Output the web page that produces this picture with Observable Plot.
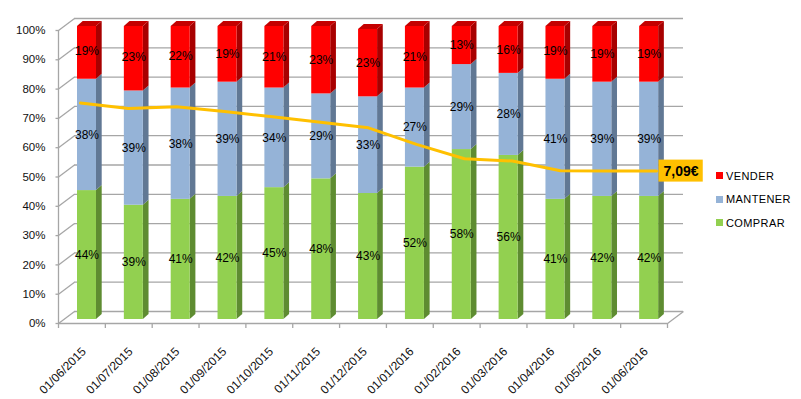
<!DOCTYPE html>
<html>
<head>
<meta charset="utf-8">
<script src="https://cdn.jsdelivr.net/npm/d3@7"></script>
<script src="https://cdn.jsdelivr.net/npm/@observablehq/plot@0.6"></script>
<style>
  html, body { margin: 0; padding: 0; background: #fff; }
  #chart { position: relative; width: 801px; height: 399px; font-family: "Liberation Sans", Arial, sans-serif; }
  #chart svg { position: absolute; left: 0; top: 0; overflow: visible; }
  #legend { position: absolute; left: 716px; top: 164px; font-size: 11px; color: #000; letter-spacing: 0.4px; }
  #legend .item { display: flex; align-items: center; height: 23.5px; }
  #legend .sw { width: 7px; height: 7px; margin-right: 3px; }
</style>
</head>
<body>
<div id="chart"></div>
<script>
// ---- data ----
const dates = ["01/06/2015","01/07/2015","01/08/2015","01/09/2015","01/10/2015","01/11/2015","01/12/2015",
               "01/01/2016","01/02/2016","01/03/2016","01/04/2016","01/05/2016","01/06/2016"];
const comprar  = [44,39,41,42,45,48,43,52,58,56,41,42,42];
const mantener = [38,39,38,39,34,29,33,27,29,28,41,39,39];
const vender   = [19,23,22,19,21,23,23,21,13,16,19,19,19];
const price    = [10.34,10.08,10.16,9.94,9.69,9.43,9.16,8.37,7.68,7.57,7.11,7.09,7.09];
const yTicks   = [0,10,20,30,40,50,60,70,80,90,100];
const seriesNames = ["COMPRAR","MANTENER","VENDER"];
const legendOrder = ["VENDER","MANTENER","COMPRAR"];

// ---- styles ----
const front = {COMPRAR:"#92D050", MANTENER:"#95B3D7", VENDER:"#FF0000"};
const side  = {COMPRAR:"#5E8C31", MANTENER:"#617894", VENDER:"#A80000"};
const topC  = {COMPRAR:"#76A83E", MANTENER:"#7890AE", VENDER:"#C40000"};
const gridColor = "#A6A6A6";

// ---- layout ----
const W = 801, H = 399;
const ML = 58, MR = 134, MT = 26, MB = 80;
const kx = (W - ML - MR) / dates.length;   // px per category
const ky = (H - MT - MB) / 100;            // px per percent
const BL = 19 / kx, BR = 38 / kx;          // bar front face within category
const DX = 5.7 / kx, DY = 5 / ky;          // bar depth
const WX = 16 / kx, WY = 12 / ky;          // wall depth

// ---- build stacked segments ----
const seriesVals = {COMPRAR: comprar, MANTENER: mantener, VENDER: vender};
const segs = [];
dates.forEach((d, i) => {
  let cum = 0;
  seriesNames.forEach((s, k) => {
    const v = seriesVals[s][i];
    const lo = cum, hiRaw = cum + v;
    cum = hiRaw;
    segs.push({i, date: d, series: s, value: v, key: d + s,
               lo: Math.min(lo, 100), hi: Math.min(hiRaw, 100), mid: (lo + hiRaw) / 2, isTop: k === seriesNames.length - 1});
  });
});
const sidePts = segs.flatMap(s => [
  {key: s.key, series: s.series, x: s.i + BR,      y1: s.lo,      y2: s.hi},
  {key: s.key, series: s.series, x: s.i + BR + DX, y1: s.lo + DY, y2: s.hi + DY}
]);
const topPts = segs.filter(s => s.isTop).flatMap(s => [
  {key: s.key, series: s.series, x: s.i + BL,      y1: s.hi, y2: s.hi},
  {key: s.key, series: s.series, x: s.i + BL + DX, y1: s.hi, y2: s.hi + DY},
  {key: s.key, series: s.series, x: s.i + BR,      y1: s.hi, y2: s.hi + DY},
  {key: s.key, series: s.series, x: s.i + BR + DX, y1: s.hi + DY, y2: s.hi + DY}
]);
const cats = dates.map((d, i) => ({date: d, i}));
const bounds = d3.range(dates.length + 1);

const bars = Plot.plot({
  width: W, height: H,
  marginLeft: ML, marginRight: MR, marginTop: MT, marginBottom: MB,
  style: {fontFamily: "Liberation Sans, Arial, sans-serif", background: "transparent"},
  x: {domain: [0, dates.length], axis: null},
  y: {domain: [0, 100], axis: null},
  color: {type: "identity"},
  marks: [
    // back wall gridlines
    Plot.ruleY(yTicks, {x1: 0, x2: dates.length, dx: 16, dy: -8, stroke: gridColor, strokeWidth: 1.3}),
    // side wall diagonals
    Plot.link(yTicks, {x1: 0, x2: WX, y1: d => d, y2: d => d + WY, dy: 4, stroke: gridColor, strokeWidth: 1.3}),
    // floor right edge
    Plot.link([0], {x1: dates.length, x2: dates.length + WX, y1: 0, y2: WY, dy: 4, stroke: gridColor, strokeWidth: 1.3}),
    // floor front edge & left axis line
    Plot.ruleY([0], {x1: 0, x2: dates.length, dy: 4, stroke: gridColor, strokeWidth: 1.3}),
    Plot.ruleX([0], {y1: 0, y2: 100, dy: 4, stroke: gridColor, strokeWidth: 1.3}),
    // y ticks
    Plot.link(yTicks, {x1: -3 / kx, x2: 0, y1: d => d, y2: d => d, dy: 4, stroke: gridColor, strokeWidth: 1.3}),
    // x ticks
    Plot.ruleX(bounds, {y1: 0, y2: -5 / ky, dy: 4, stroke: gridColor, strokeWidth: 1.3}),
    // y labels
    Plot.text(yTicks, {x: 0, y: d => d, text: d => d + "%", textAnchor: "end", dx: -13, dy: 4, fontSize: 11.5, fill: "#111"}),
    // x labels
    Plot.text(cats, {x: d => d.i + 0.5, y: -14 / ky, text: "date", rotate: -45, textAnchor: "end", dx: 2, dy: 16, fontSize: 12, fill: "#111"}),
    // 3D bar faces
    Plot.areaY(sidePts, {x: "x", y1: "y1", y2: "y2", z: "key", fill: d => side[d.series]}),
    Plot.areaY(topPts, {x: "x", y1: "y1", y2: "y2", z: "key", fill: d => topC[d.series]}),
    Plot.rect(segs, {x1: d => d.i + BL, x2: d => d.i + BR, y1: "lo", y2: "hi", fill: d => front[d.series]}),
    // value labels
    Plot.text(segs, {x: d => d.i + (BL + BR) / 2, y: "mid", text: d => d.value + "%", fontSize: 12, fill: "#000"})
  ]
});

const last = dates.length - 1;
const fmtPrice = v => v.toFixed(2).replace(".", ",") + "€";
const priceData = dates.map((d, i) => ({date: d, v: price[i]}));
const line = Plot.plot({
  width: W, height: H,
  marginLeft: 75, marginRight: W - 660, marginTop: MT, marginBottom: MB,
  style: {fontFamily: "Liberation Sans, Arial, sans-serif", background: "transparent"},
  x: {type: "point", domain: dates, padding: 0, axis: null},
  y: {domain: [0, 14], axis: null},
  marks: [
    Plot.line(priceData, {x: "date", y: "v", stroke: "#FFC000", strokeWidth: 3}),
    Plot.text([priceData[last]], {x: "date", y: "v", text: d => fmtPrice(d.v), textAnchor: "start", dx: 7, fontSize: 14, fontWeight: "bold", fill: "#000"})
  ]
});

const chart = document.getElementById("chart");
chart.appendChild(bars);
chart.appendChild(line);

// background box for price label
const lbl = Array.from(line.querySelectorAll("text")).find(t => t.textContent === fmtPrice(price[last]));
if (lbl) {
  const bb = lbl.getBBox();
  const g = lbl.parentNode;
  const rect = document.createElementNS("http://www.w3.org/2000/svg", "rect");
  rect.setAttribute("x", bb.x - 5);
  rect.setAttribute("y", bb.y + bb.height / 2 - 11);
  rect.setAttribute("width", bb.width + 9);
  rect.setAttribute("height", 22);
  rect.setAttribute("fill", "#FFC000");
  const tf = lbl.getAttribute("transform");
  if (tf) rect.setAttribute("transform", tf);
  g.insertBefore(rect, g.firstChild);
}

// legend
const legend = document.createElement("div");
legend.id = "legend";
legendOrder.forEach(s => {
  const item = document.createElement("div");
  item.className = "item";
  const sw = document.createElement("span");
  sw.className = "sw";
  sw.style.background = front[s];
  const tx = document.createElement("span");
  tx.textContent = s;
  item.appendChild(sw); item.appendChild(tx);
  legend.appendChild(item);
});
chart.appendChild(legend);
</script>
</body>
</html>
